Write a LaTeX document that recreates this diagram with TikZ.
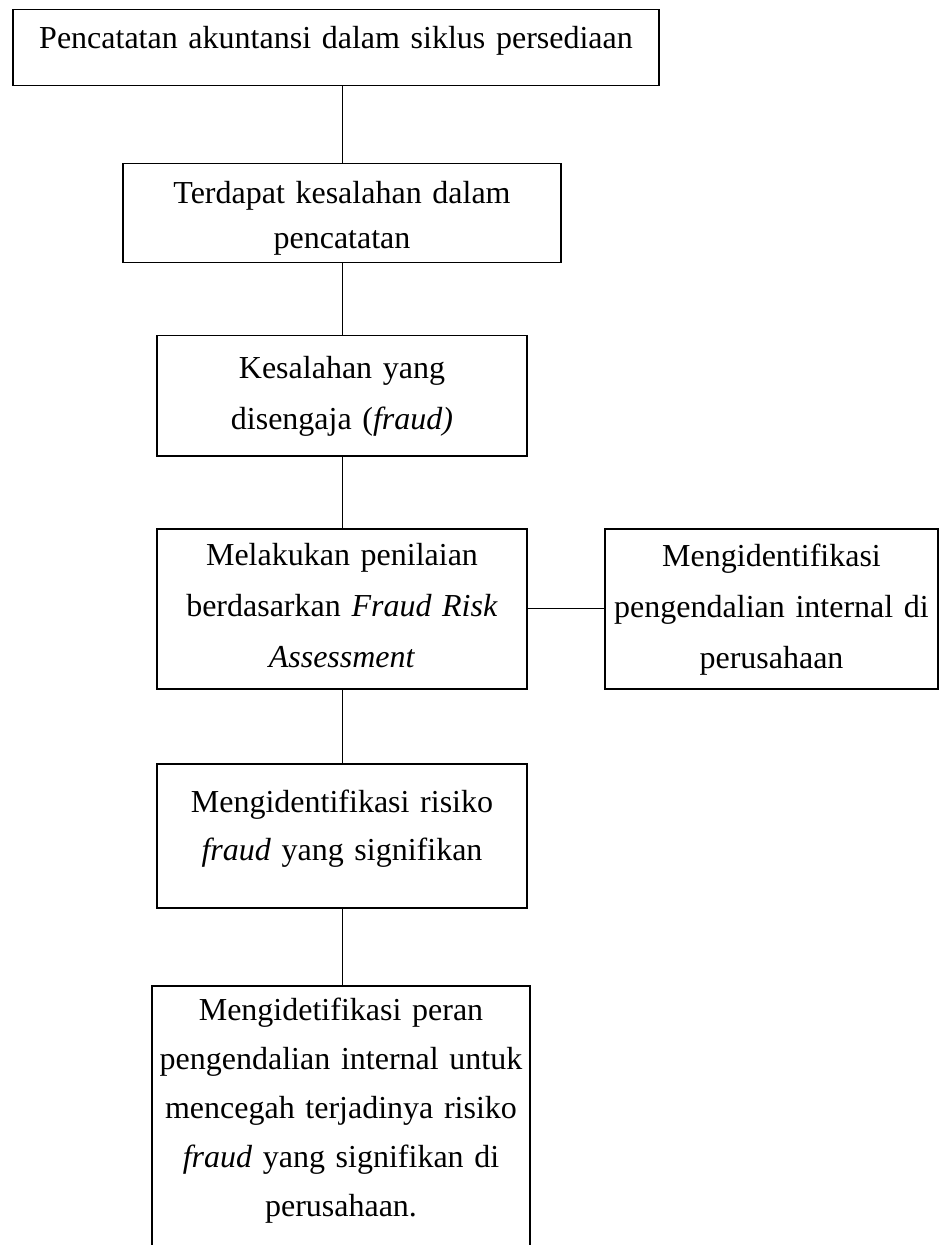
\documentclass[tikz,border=0pt]{standalone}
\usepackage{fontspec}
\setmainfont{Liberation Serif}

\tikzset{
  kotak/.style={draw, line width=0.75pt, inner sep=0pt, anchor=north, align=center},
  garis/.style={line width=0.4pt}
}

\begin{document}
\begin{tikzpicture}[x=0.5pt,y=-0.5pt,font=\fontsize{16}{25.5}\selectfont]
    \useasboundingbox (0,0) rectangle (941,1245);
    % alur utama
    \node[kotak, text width=323pt, text height=19.5pt, text depth=18.5pt] (b1) at (336,9) {Pencatatan akuntansi dalam siklus persediaan};
    \node[kotak, text width=219pt, text height=20pt, text depth=29.5pt, font=\fontsize{16}{22.5}\selectfont] (b2) at (342,163) {Terdapat kesalahan dalam\\ pencatatan};
    \node[kotak, text width=185pt, text height=21.5pt, text depth=38.5pt] (b3) at (342,335) {Kesalahan yang\\ disengaja (\textit{fraud)}};
    \node[kotak, text width=185pt, text height=18.5pt, text depth=61.5pt] (b4) at (342,528) {Melakukan penilaian\\ berdasarkan \textit{Fraud Risk}\\ \textit{Assessment}};
    \node[kotak, text width=166.5pt, text height=19pt, text depth=61pt] (b5) at (771.5,528) {Mengidentifikasi\\ pengendalian internal di\\ perusahaan};
    \node[kotak, text width=185pt, text height=24.5pt, text depth=47.5pt, font=\fontsize{16}{24}\selectfont] (b6) at (342,763) {Mengidentifikasi risiko\\ \textit{fraud} yang signifikan};
    \node[kotak, text width=189pt, text height=17.5pt, text depth=120pt, font=\fontsize{16}{24.5}\selectfont] (b7) at (341,985) {Mengidetifikasi peran\\ pengendalian internal untuk\\ mencegah terjadinya risiko\\ \textit{fraud} yang signifikan di\\ perusahaan.};
    % penghubung
    \draw[garis] (b1.south -| b2.north) -- (b2.north);
    \draw[garis] (b2.south) -- (b3.north);
    \draw[garis] (b3.south) -- (b4.north);
    \draw[garis] (b4.east) -- (b5.west);
    \draw[garis] (b4.south) -- (b6.north);
    \draw[garis] (b6.south) -- (b6.south |- b7.north);
\end{tikzpicture}
\end{document}
